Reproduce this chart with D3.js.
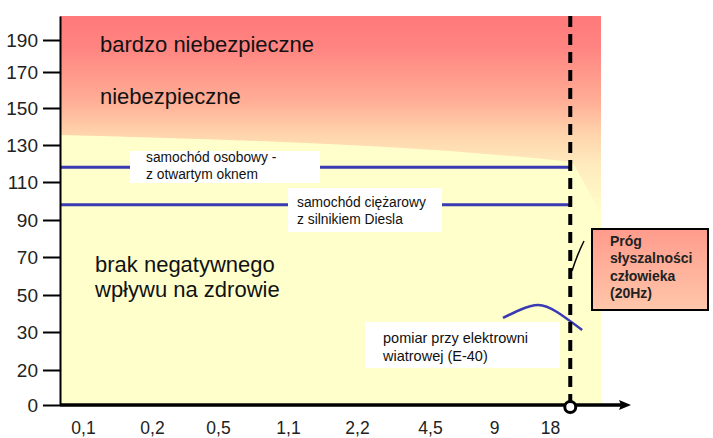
<!DOCTYPE html>
<html><head><meta charset="utf-8">
<script src="https://cdn.jsdelivr.net/npm/d3@7"></script>
<style>body{margin:0;background:#fff} svg{display:block;font-family:"Liberation Sans",Arial,sans-serif}</style>
</head><body><svg id="c" width="713" height="438"></svg>
<script>
// ---- data ----
const xLabels = ["0,1","0,2","0,5","1,1","2,2","4,5","9","18"];
const yTicks = [0,20,30,50,70,90,110,130,150,170,190];
const sourceNames = [["samochód osobowy -","z otwartym oknem"],["samochód ciężarowy","z silnikiem Diesla"]];
const sourceLevels = [118, 98];
const turbineIdx = [6.16, 6.46, 6.79, 7.10, 7.46];
const turbineDb  = [37.6, 41.9, 44.6, 40.8, 31.1];
const boundaryIdx = [-0.36, 7.29, 7.45, 7.73];
const boundaryDb  = [135.4, 121, 112, 92.6];
const thresholdIdx = 7.29;
const zoneLabels = [["bardzo niebezpieczne"],["niebezpieczne"],["brak negatywnego","wpływu na zdrowie"]];
const turbineLabel = ["pomiar przy elektrowni","wiatrowej (E-40)"];
const thresholdLabel = ["Próg","słyszalności","człowieka","(20Hz)"];

// ---- scales ----
const svg = d3.select("#c");
const x = d3.scaleLinear()
  .domain([-0.36,0,1,2,3,4,5,6,7,7.73])
  .range([60,83,152,218,288,357,430,494,550,601]);
const y = d3.scaleLinear()
  .domain([0,20,30,50,70,90,110,130,150,170,190,205])
  .range([405,370,332,295,257,220,182,145,108,72,40,16]);

const defs = svg.append("defs");
const g1 = defs.append("linearGradient").attr("id","danger").attr("x1",0).attr("y1",0).attr("x2",0).attr("y2",1);
[[0,"#ff7a7a"],[0.08,"#ff8481"],[0.22,"#ffae96"],[0.30,"#ffd3ab"],[0.38,"#ffeabd"],[0.52,"#ffffcc"],[1,"#ffffcc"]]
  .forEach(([o,c])=>g1.append("stop").attr("offset",o).attr("stop-color",c));
const g2 = defs.append("linearGradient").attr("id","boxg").attr("x1",0).attr("y1",0).attr("x2",0).attr("y2",1);
[[0,"#ff9b8c"],[1,"#ffc7aa"]].forEach(([o,c])=>g2.append("stop").attr("offset",o).attr("stop-color",c));

const x0 = x(-0.36), x1 = x(7.73);
svg.append("rect").attr("x",x0).attr("y",y(205)).attr("width",x1-x0).attr("height",y(0)-y(205)).attr("fill","url(#danger)");

// safe zone
const area = d3.area().x((d,i)=>x(boundaryIdx[i])).y0(y(0)).y1((d,i)=>y(boundaryDb[i])).curve(d3.curveMonotoneX);
svg.append("path").datum(boundaryIdx).attr("d",area).attr("fill","#ffffcc");

// zone labels
const zl = svg.append("g").attr("font-size",22).attr("fill","#111");
const zPos = [[100,52],[100,104],[95,272]];
zoneLabels.forEach((lines,k)=>{
  lines.forEach((t,j)=>zl.append("text").attr("x",zPos[k][0]).attr("y",zPos[k][1]+j*25).text(t));
});

// source lines
const blue = "#3a3ab2";
svg.selectAll("line.src").data(sourceLevels).join("line").attr("class","src")
  .attr("x1",x(-0.36)).attr("x2",x(thresholdIdx)).attr("y1",d=>y(d)).attr("y2",d=>y(d))
  .attr("stroke",blue).attr("stroke-width",3);

// source label boxes
const boxes = [[130,151,190,32,146,[162,179]],[288,188,154,44,297,[207,224]]];
sourceNames.forEach((lines,k)=>{
  const b = boxes[k];
  svg.append("rect").attr("x",b[0]).attr("y",b[1]).attr("width",b[2]).attr("height",b[3]).attr("fill","#fff");
  lines.forEach((t,j)=>svg.append("text").attr("x",b[4]).attr("y",b[5][j]).attr("font-size",13.8).attr("fill","#111").text(t));
});

// turbine measurement box + curve
svg.append("rect").attr("x",365).attr("y",322).attr("width",195).attr("height",46).attr("fill","#fff");
turbineLabel.forEach((t,j)=>svg.append("text").attr("x",383).attr("y",343+j*18).attr("font-size",14.5).attr("fill","#111").text(t));
const line = d3.line().x((d,i)=>x(turbineIdx[i])).y((d,i)=>y(turbineDb[i])).curve(d3.curveNatural);
svg.append("path").datum(turbineIdx).attr("d",line).attr("fill","none").attr("stroke",blue).attr("stroke-width",2.5);

// threshold dashed line
svg.append("line").attr("x1",x(thresholdIdx)).attr("x2",x(thresholdIdx)).attr("y1",y(205)).attr("y2",y(0))
  .attr("stroke","#000").attr("stroke-width",4).attr("stroke-dasharray","11,7");

// axes
const yAxis = svg.append("g").attr("transform",`translate(${x0},0)`)
  .call(d3.axisLeft(y).tickValues(yTicks).tickSize(17).tickSizeOuter(0).tickPadding(5));
yAxis.select(".domain").attr("stroke","#000").attr("stroke-width",2);
yAxis.selectAll(".tick line").attr("stroke","#000").attr("stroke-width",2);
yAxis.selectAll(".tick text").attr("font-size",19).attr("fill","#222").attr("font-family","Liberation Sans, Arial, sans-serif");

const xAxis = svg.append("g").attr("transform",`translate(0,${y(0)})`)
  .call(d3.axisBottom(x).tickValues(d3.range(xLabels.length)).tickFormat(i=>xLabels[i]).tickSize(0).tickPadding(17));
xAxis.select(".domain").remove();
xAxis.selectAll(".tick text").attr("font-size",17.5).attr("fill","#222").attr("font-family","Liberation Sans, Arial, sans-serif");
svg.append("line").attr("x1",x0).attr("x2",622).attr("y1",y(0)).attr("y2",y(0)).attr("stroke","#000").attr("stroke-width",3.5);
svg.append("path").attr("d",`M631,${y(0)} L619,${y(0)-5} L621,${y(0)} L619,${y(0)+5}Z`).attr("fill","#000");

svg.append("circle").attr("cx",x(thresholdIdx)).attr("cy",y(0)+2).attr("r",5.5)
  .attr("fill","#fff").attr("stroke","#000").attr("stroke-width",3);

// threshold label box
svg.append("path").attr("d","M572,271 Q577,255 584,241").attr("fill","none").attr("stroke","#000").attr("stroke-width",1.5);
svg.append("rect").attr("x",592).attr("y",229).attr("width",116).attr("height",81)
  .attr("fill","url(#boxg)").attr("stroke","#000").attr("stroke-width",2);
thresholdLabel.forEach((t,j)=>svg.append("text").attr("x",610).attr("y",246+j*17.3)
  .attr("font-size",14).attr("font-weight","bold").attr("fill","#222").text(t));
</script></body></html>
